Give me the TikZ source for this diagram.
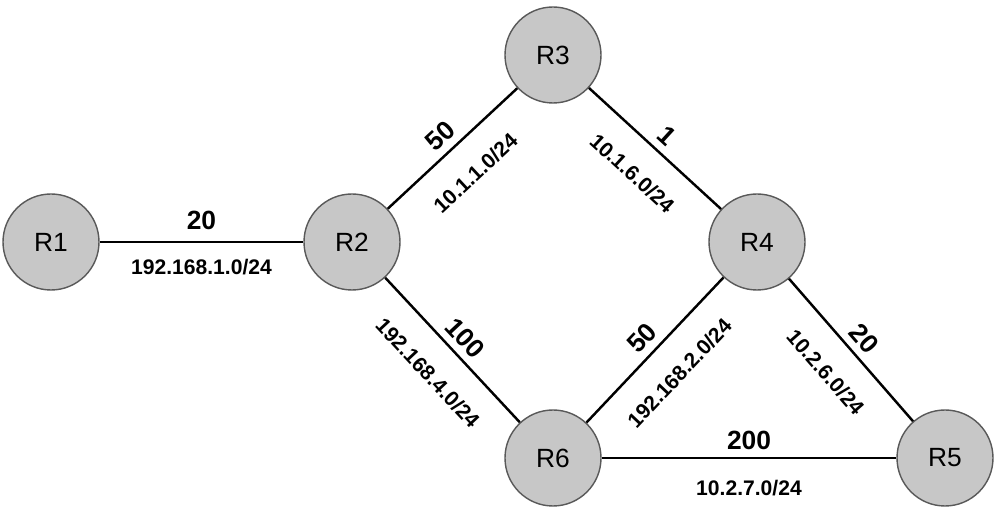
\documentclass[tikz,border=0pt]{standalone}
\usepackage{fontspec}
\setmainfont{Liberation Sans}
\begin{document}
\begin{tikzpicture}[
		router/.style={circle, draw=black!65, line width=0.8pt, fill=black!22, minimum size=1.92cm, inner sep=0pt, font=\fontsize{15}{18}\selectfont},
		link/.style={line width=1.4pt},
		cost/.style={font=\bfseries\fontsize{15}{18}\selectfont, inner sep=1pt},
		net/.style={font=\bfseries\fontsize{12}{14}\selectfont, inner sep=1pt}]
		\useasboundingbox (0,0) rectangle (20,10.28);
		\node [router] (r1) at (1.02,5.44) {R1};
		\node [router] (r2) at (7.04,5.44) {R2};
		\node [router] (r3) at (11.06,9.18) {R3};
		\node [router] (r4) at (15.14,5.44) {R4};
		\node [router] (r5) at (18.90,1.12) {R5};
		\node [router] (r6) at (11.06,1.12) {R6};
		\draw [link] (r1) -- (r2) node [midway, above=5pt, cost] {20} node [midway, below=8pt, net] {192.168.1.0/24};
		\draw [link] (r2) -- (r3) node [midway, sloped, above=3pt, cost] {50} node [midway, sloped, below=13pt, net] {10.1.1.0/24};
		\draw [link] (r3) -- (r4) node [midway, sloped, above=3pt, cost] {1} node [midway, sloped, below=13pt, net] {10.1.6.0/24};
		\draw [link] (r2) -- (r6) node [midway, sloped, above=3pt, cost] {100} node [midway, sloped, below=13pt, net] {192.168.4.0/24};
		\draw [link] (r6) -- (r4) node [midway, sloped, above=3pt, cost] {50} node [midway, sloped, below=13pt, net] {192.168.2.0/24};
		\draw [link] (r4) -- (r5) node [midway, sloped, above=3pt, cost] {20} node [midway, sloped, below=13pt, net] {10.2.6.0/24};
		\draw [link] (r6) -- (r5) node [midway, above=3pt, cost] {200} node [midway, below=11pt, net] {10.2.7.0/24};
		\end{tikzpicture}
\end{document}
